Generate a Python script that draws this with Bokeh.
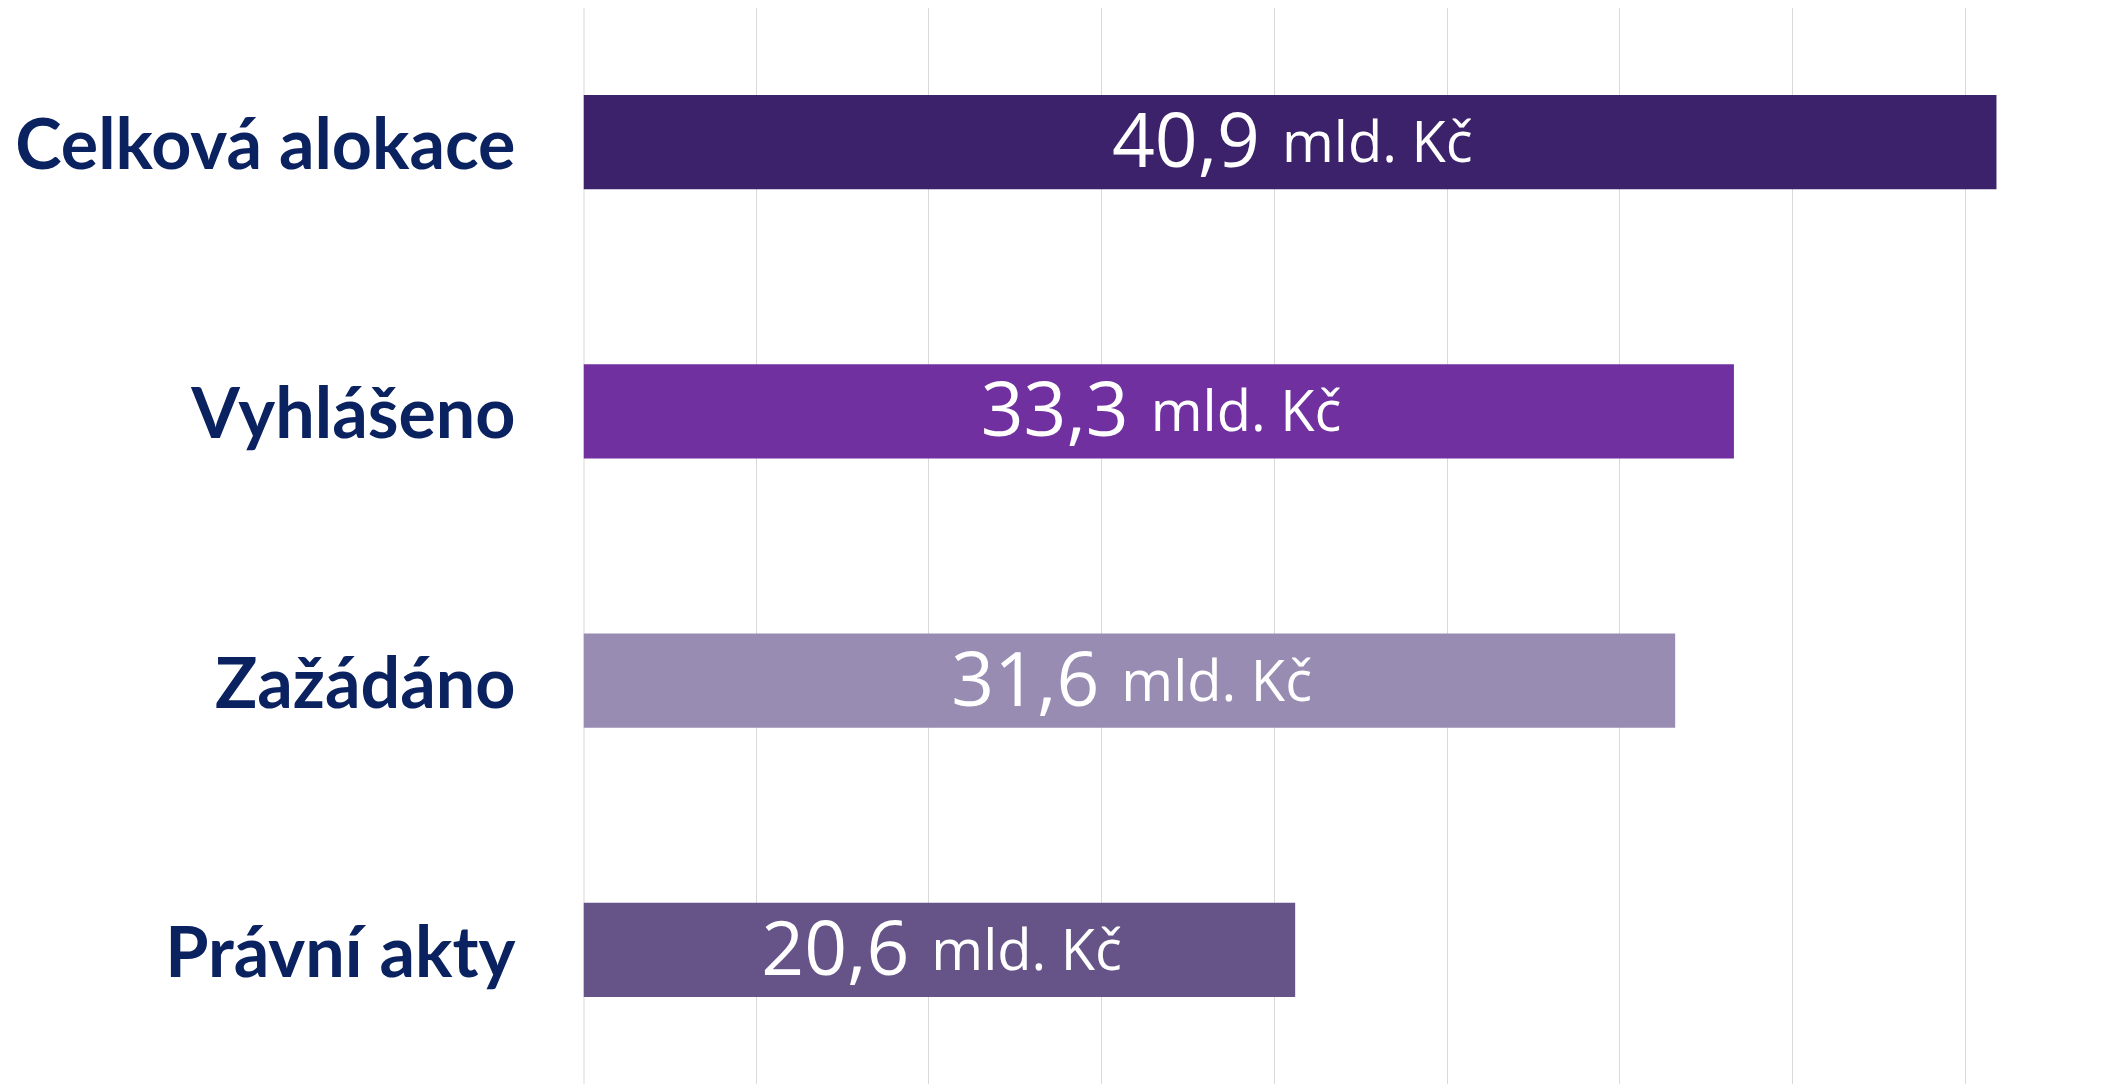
from bokeh.plotting import figure
from bokeh.models import ColumnDataSource, FactorRange, Range1d, SingleIntervalTicker, Span
from bokeh.core.properties import value
from bokeh.embed import file_html
from bokeh.resources import INLINE

categories = ["Celková alokace", "Vyhlášeno", "Zažádáno", "Právní akty"]
values = [40.9, 33.3, 31.6, 20.6]
value_labels = ["40,9", "33,3", "31,6", "20,6"]
unit_labels = ["mld. Kč", "mld. Kč", "mld. Kč", "mld. Kč"]
bar_colors = ["#3C226A", "#7030A0", "#998CB3", "#665489"]

src = ColumnDataSource(dict(
    cat=categories,
    val=values,
    mid=[v / 2 for v in values],
    num=value_labels,
    unit=unit_labels,
    color=bar_colors,
))

p = figure(
    width=2120, height=1084,
    y_range=FactorRange(factors=list(reversed(categories)), range_padding=0),
    x_range=Range1d(0, 44.49),
    output_backend="svg", toolbar_location=None,
    min_border_left=583, min_border_right=0, min_border_top=7, min_border_bottom=0,
)
p.outline_line_color = None
p.background_fill_color = "white"
p.border_fill_color = "white"

p.add_layout(Span(location=0, dimension="height", line_color="#D9D9D9", line_width=2, level="underlay"))

p.hbar(y="cat", right="val", left=0, height=0.35, color="color", line_color=None, source=src)

p.text(x="mid", y="cat", text="num", source=src, text_align="right", text_baseline="alphabetic",
       x_offset=-30, y_offset=-2, text_color="white", text_font=value("Open Sans"),
       text_font_size="75px")
p.text(x="mid", y="cat", text="unit", source=src, text_align="left", text_baseline="alphabetic",
       x_offset=-8, y_offset=-2, text_color="white", text_font=value("Open Sans"),
       text_font_size="56px")

p.xaxis.visible = False
p.xaxis.ticker = SingleIntervalTicker(interval=5)
p.xgrid.ticker = SingleIntervalTicker(interval=5)
p.xgrid.grid_line_color = "#D9D9D9"
p.xgrid.grid_line_width = 1
p.ygrid.grid_line_color = None

yax = p.yaxis[0]
yax.axis_line_color = None
yax.major_tick_line_color = None
yax.minor_tick_line_color = None
yax.major_label_standoff = 62
yax.major_label_text_font = "Lato"
yax.major_label_text_font_style = "bold"
yax.major_label_text_font_size = "70px"
yax.major_label_text_color = "#0B2260"

open("out.html", "w").write(file_html(p, INLINE))
